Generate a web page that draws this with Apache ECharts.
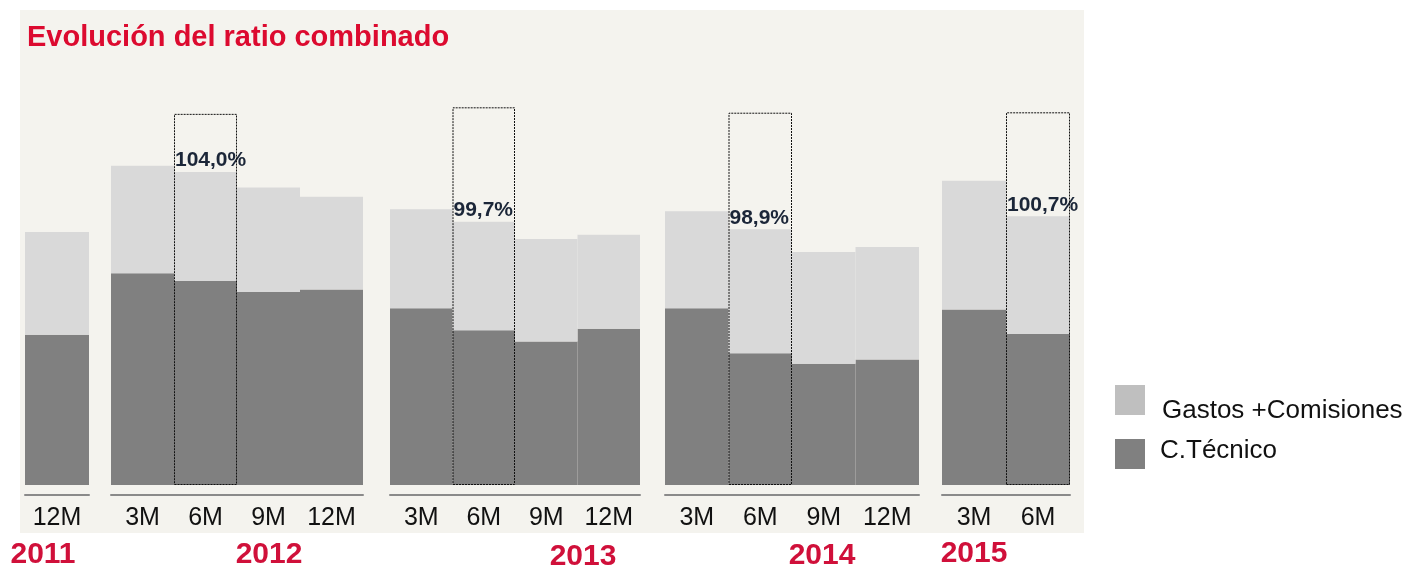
<!DOCTYPE html>
<html>
<head>
<meta charset="utf-8">
<script src="https://cdn.jsdelivr.net/npm/echarts@6/dist/echarts.min.js"></script>
<style>
html,body{margin:0;padding:0;background:#ffffff;}
#chart{width:1408px;height:570px;}
</style>
</head>
<body>
<div id="chart"></div>
<script>
// ---------- DATA ----------
const chartTitle = 'Evolución del ratio combinado';
const years = ['2011', '2012', '2013', '2014', '2015'];
const periods = [
  ['12M'],
  ['3M', '6M', '9M', '12M'],
  ['3M', '6M', '9M', '12M'],
  ['3M', '6M', '9M', '12M'],
  ['3M', '6M']
];
// C.Técnico segment heights (chart units)
const tecnico = [
  [39.0],
  [55.0, 53.0, 50.1, 50.8],
  [45.9, 40.2, 37.3, 40.6],
  [45.9, 34.2, 31.5, 32.6],
  [45.6, 39.2]
];
// Gastos + Comisiones segment heights (chart units)
const gastos = [
  [26.7],
  [27.9, 28.3, 27.2, 24.1],
  [25.7, 28.2, 26.6, 24.4],
  [25.2, 32.2, 29.0, 29.2],
  [33.4, 30.6]
];
// combined ratio labels shown on the 6M bars
const ratioLabels = [
  [null],
  [null, '104,0%', null, null],
  [null, '99,7%', null, null],
  [null, '98,9%', null, null],
  [null, '100,7%']
];
// height of the dotted highlight boxes around the 6M bars (chart units)
const highlightBox = [
  [null],
  [null, 96.4, null, null],
  [null, 98.1, null, null],
  [null, 96.7, null, null],
  [null, 96.8]
];
const legendNames = ['Gastos +Comisiones', 'C.Técnico'];

// ---------- LAYOUT / STYLE ----------
const FONT = '"Liberation Sans", Arial, Helvetica, sans-serif';
const RED = '#d0103a';
const DARK = '#808080';
const LIGHT = '#d9d9d9';
const gridBoxes = [
  {left: 25, width: 64},
  {left: 111, width: 252},
  {left: 390, width: 250},
  {left: 665, width: 254},
  {left: 942, width: 128}
];
const gridTop = 100, gridHeight = 385;
const yearPos = [[43, 555], [269, 555], [583, 557], [822, 556], [974, 554]];

const grids = [], xAxes = [], yAxes = [], series = [];
gridBoxes.forEach((g, i) => {
  grids.push({left: g.left, width: g.width, top: gridTop, height: gridHeight, containLabel: false});
  xAxes.push({
    type: 'category', gridIndex: i, data: periods[i], offset: 10,
    axisLine: {show: true, onZero: false, lineStyle: {color: '#8a8a8a', width: 2}},
    axisTick: {show: false}, splitLine: {show: false},
    axisLabel: {interval: 0, fontSize: 25, color: '#111', fontFamily: FONT, margin: 11}
  });
  yAxes.push({type: 'value', gridIndex: i, min: 0, max: 100, show: false});
  series.push({
    type: 'bar', name: legendNames[1], xAxisIndex: i, yAxisIndex: i, stack: 's' + i,
    data: tecnico[i], itemStyle: {color: DARK}, barCategoryGap: '0%', barGap: '-100%'
  });
  series.push({
    type: 'bar', name: legendNames[0], xAxisIndex: i, yAxisIndex: i, stack: 's' + i,
    data: gastos[i].map((v, j) => ({
      value: v,
      label: {show: ratioLabels[i][j] != null, formatter: ratioLabels[i][j] || ''}
    })),
    itemStyle: {color: LIGHT}, barCategoryGap: '0%', barGap: '-100%',
    label: {
      position: [1, -1], align: 'left', verticalAlign: 'bottom',
      fontSize: 21, fontWeight: 'bold', color: '#1b2638', fontFamily: FONT
    }
  });
  series.push({
    type: 'bar', name: 'box', xAxisIndex: i, yAxisIndex: i, silent: true, z: 3,
    data: highlightBox[i].map(v => v == null ? '-' : v),
    barCategoryGap: '0%', barGap: '-100%',
    itemStyle: {color: 'rgba(0,0,0,0)', borderColor: '#111', borderWidth: 1, borderType: [2, 1]}
  });
});

const graphics = [
  {type: 'rect', z: -10, shape: {x: 20, y: 10, width: 1064, height: 523}, style: {fill: '#f4f3ee'}}
];
years.forEach((y, i) => {
  graphics.push({
    type: 'text', z: 100, x: yearPos[i][0], y: yearPos[i][1],
    style: {text: y, fill: RED, font: 'bold 30px ' + FONT, align: 'center', verticalAlign: 'middle'}
  });
});

const option = {
  animation: false,
  backgroundColor: '#ffffff',
  title: {
    text: chartTitle, left: 27, top: 23, padding: 0,
    textStyle: {fontSize: 29, fontWeight: 'bold', color: '#dc0a2f', fontFamily: FONT}
  },
  legend: {
    orient: 'vertical', left: 1110, top: 371, itemWidth: 30, itemHeight: 30, itemGap: 6,
    selectedMode: false, icon: 'rect',
    data: [
      {name: legendNames[0], itemStyle: {color: '#bfbfbf'}},
      {name: legendNames[1], itemStyle: {color: DARK}}
    ],
    formatter: n => n === legendNames[0] ? '{a|' + n + '}' : '{b|' + n + '}',
    textStyle: {
      fontSize: 26, color: '#111', fontFamily: FONT,
      rich: {
        a: {fontSize: 26, lineHeight: 26, color: '#111', fontFamily: FONT, padding: [22, 0, 0, 12]},
        b: {fontSize: 26, lineHeight: 26, color: '#111', fontFamily: FONT, padding: [8, 0, 14, 10]}
      }
    }
  },
  grid: grids,
  xAxis: xAxes,
  yAxis: yAxes,
  series: series,
  graphic: graphics
};

const chart = echarts.init(document.getElementById('chart'), null, {renderer: 'canvas'});
chart.setOption(option);
</script>
</body>
</html>
